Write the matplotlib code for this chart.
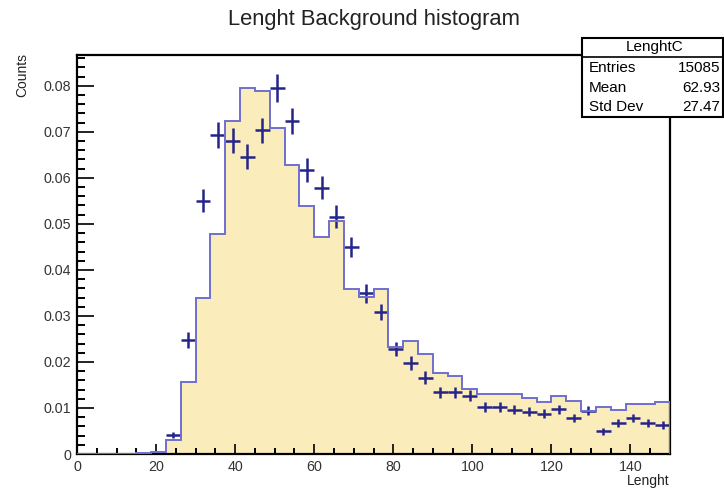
import numpy as np
import matplotlib
matplotlib.use('Agg')
import matplotlib.pyplot as plt
from matplotlib.patches import Rectangle
from matplotlib.ticker import MultipleLocator

plt.rcParams['font.family'] = ['Liberation Sans', 'DejaVu Sans']

# 40 bins of 3.75 between 0 and 150
bin_edges = np.linspace(0, 150, 41)

# background histogram (filled)
hist_vals = [0, 0, 0, 0, 0.0002, 0.0004, 0.0030, 0.0157, 0.0340, 0.0478,
             0.0724, 0.0795, 0.0788, 0.0709, 0.0628, 0.0538, 0.0472, 0.0507, 0.0358, 0.0342,
             0.0358, 0.0233, 0.0246, 0.0217, 0.0175, 0.0170, 0.0141, 0.0130, 0.0130, 0.0130,
             0.0121, 0.0112, 0.0126, 0.0116, 0.0094, 0.0103, 0.0096, 0.0108, 0.0108, 0.0112]

# points with errors
pts_vals = [0, 0, 0, 0, 0.0001, 0.0003, 0.0041, 0.0248, 0.0550, 0.0693,
            0.0681, 0.0646, 0.0703, 0.0795, 0.0723, 0.0617, 0.0579, 0.0516, 0.0449, 0.0349,
            0.0309, 0.0228, 0.0197, 0.0166, 0.0134, 0.0134, 0.0127, 0.0103, 0.0103, 0.0096,
            0.0092, 0.0088, 0.0097, 0.0078, 0.0094, 0.0049, 0.0068, 0.0078, 0.0068, 0.0063]
pts_err = [0, 0, 0, 0, 0.0001, 0.0002, 0.0007, 0.0017, 0.0025, 0.0028,
           0.0027, 0.0027, 0.0028, 0.0030, 0.0028, 0.0026, 0.0025, 0.0024, 0.0022, 0.0020,
           0.0018, 0.0016, 0.0015, 0.0014, 0.0012, 0.0012, 0.0012, 0.0011, 0.0011, 0.0010,
           0.0010, 0.0010, 0.0010, 0.0009, 0.0010, 0.0007, 0.0009, 0.0009, 0.0009, 0.0008]

stats_name = "LenghtC"
stats_rows = [("Entries", "15085"), ("Mean", "62.93"), ("Std Dev", "27.47")]

fig = plt.figure(figsize=(7.24, 4.92), dpi=100)
ax = fig.add_axes([77/724, 1-454/492, (670-77)/724, (454-55)/492])

centers = 0.5*(bin_edges[:-1] + bin_edges[1:])
half_w = 0.5*np.diff(bin_edges)
pv = np.array(pts_vals)
m = pv > 0

ax.stairs(hist_vals, bin_edges, fill=True, color='#fbedbb', zorder=1)
ax.errorbar(centers[m], pv[m], xerr=half_w[m], yerr=np.array(pts_err)[m],
            fmt='none', ecolor='#25248a', elinewidth=1.8, capsize=0, zorder=2)
ax.stairs(hist_vals, bin_edges, color='#6f6fcf', linewidth=1.4, zorder=3)

ax.set_xlim(0, 150)
ax.set_ylim(0, 0.0867)
ax.xaxis.set_major_locator(MultipleLocator(20))
ax.xaxis.set_minor_locator(MultipleLocator(5))
ax.yaxis.set_major_locator(MultipleLocator(0.01))
ax.yaxis.set_minor_locator(MultipleLocator(0.002))
ax.yaxis.set_major_formatter(plt.FuncFormatter(lambda v, p: '0' if v == 0 else '%g' % round(v, 3)))

ax.tick_params(axis='y', which='major', direction='in', length=12, width=1.4, labelsize=10.3, pad=4)
ax.tick_params(axis='y', which='minor', direction='in', length=6, width=1.4)
ax.tick_params(axis='x', which='major', direction='in', length=7.5, width=1.4, labelsize=10.3, pad=4)
ax.tick_params(axis='x', which='minor', direction='in', length=4.5, width=1.4)
ax.tick_params(colors='#222222', labelcolor='#333333')
for s in ax.spines.values():
    s.set_linewidth(1.6)

fig.text(0.516, 1-19/492, "Lenght Background histogram", ha='center', va='center',
         fontsize=15.8, color='#222222')
fig.text(22.5/724, 1-53/492, "Counts", rotation=90, ha='center', va='top', fontsize=10, color='#222222')
fig.text(670/724, 1-481/492, "Lenght", ha='right', va='center', fontsize=10, color='#222222')

# stats box
bx0, bx1 = 582/724, 723/724
by_top, by_sep, by_bot = 1-37.7/492, 1-56.7/492, 1-116.7/492
fig.patches.append(Rectangle((bx0, by_bot), bx1-bx0, by_top-by_bot, transform=fig.transFigure,
                             facecolor='white', edgecolor='black', linewidth=1.5, zorder=5))
fig.lines.append(plt.Line2D([bx0, bx1], [by_sep, by_sep], transform=fig.transFigure,
                            color='black', linewidth=1.2, zorder=6))
fig.text((bx0+bx1)/2 + 2/724, 1-47/492, stats_name, ha='center', va='center', fontsize=11, zorder=7)
row_y = [67.7, 87.7, 106.7]
for (lab, val), yy in zip(stats_rows, row_y):
    fig.text(589/724, 1-yy/492, lab, ha='left', va='center', fontsize=11, zorder=7)
    fig.text(720/724, 1-yy/492, val, ha='right', va='center', fontsize=11, zorder=7)

fig.savefig('out.png', dpi=100)
